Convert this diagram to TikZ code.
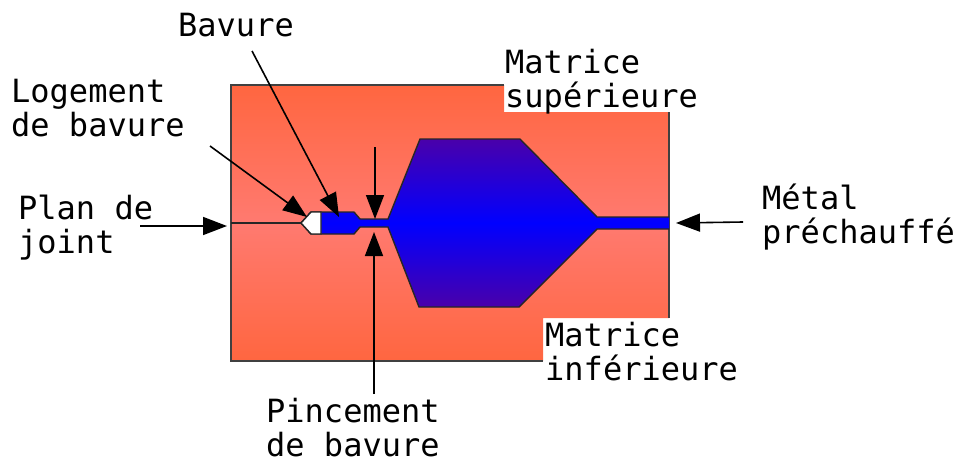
\documentclass[tikz,border=0pt]{standalone}
\usepackage{fontspec}
\setmonofont{DejaVu Sans Mono}
\usetikzlibrary{arrows.meta}
\definecolor{orangeHaut}{RGB}{255,102,64}
\definecolor{orangeMilieu}{RGB}{255,122,112}
\definecolor{violetBord}{RGB}{74,0,170}
\definecolor{bleuMetal}{RGB}{0,0,255}
\tikzset{
  etiquette/.style={anchor=north west, align=left, inner sep=0pt, text=black,
    font=\fontsize{32}{34}\selectfont\ttfamily},
  fleche/.style={-{Triangle[length=24pt,width=18pt]}, line width=1.6pt, black},
  matrice/.style={top color=orangeHaut, bottom color=orangeHaut, middle color=orangeMilieu},
  bordMatrice/.style={line width=1.5pt, black!75},
  empreinte/.style={top color=violetBord, bottom color=violetBord, middle color=bleuMetal},
  bordMetal/.style={line width=1.4pt, black!85},
}
\begin{document}
\begin{tikzpicture}[x=1pt, y=-1pt]
    \useasboundingbox (0,0) rectangle (960,463);
    % matrices
    \path[matrice] (231,85) -- (504,85) -- (504,112) -- (669,112) -- (669,318)
      -- (543,318) -- (543,361) -- (231,361) -- cycle;
    \draw[bordMatrice] (504,85) -- (231,85) -- (231,361) -- (543,361);
    \draw[bordMatrice] (669,112) -- (669,318);
    % empreinte
    \path[empreinte] (321,212) -- (354,212) -- (360,219) -- (388,219) -- (420,139)
      -- (520,139) -- (597,217) -- (669,217) -- (669,229) -- (597,229) -- (519,307)
      -- (419,307) -- (388,227) -- (360,227) -- (354,234) -- (321,234) -- cycle;
    \draw[bordMetal] (669,217) -- (597,217) -- (520,139) -- (420,139) -- (388,219)
      -- (360,219) -- (354,212) -- (311,212) -- (301,223) -- (311,234) -- (354,234)
      -- (360,227) -- (388,227) -- (419,307) -- (519,307) -- (597,229) -- (669,229);
    \draw[bordMetal, fill=white] (321,212) -- (311,212) -- (301,223) -- (311,234)
      -- (321,234) -- cycle;
    \draw[bordMetal] (231,223) -- (301,223);
    % textes
    \node[etiquette] (bavure) at (178,13) {Bavure};
    \node[etiquette] (logement) at (11,79) {Logement\\de bavure};
    \node[etiquette] (plan) at (18,195) {Plan de\\joint};
    \node[etiquette] (superieure) at (505,49) {Matrice\\supérieure};
    \node[etiquette] (inferieure) at (545,322) {Matrice\\inférieure};
    \node[etiquette] (metal) at (762,184) {Métal\\préchauffé};
    \node[etiquette] (pincement) at (266,398) {Pincement\\de bavure};
    % points des fleches
    \coordinate (bavureDe) at (252,51);
    \coordinate (bavureA) at (339,217);
    \coordinate (logementDe) at (210,146);
    \coordinate (logementA) at (307,217);
    \coordinate (planDe) at (140,226);
    \coordinate (planA) at (227,226);
    \coordinate (hautDe) at (375,147);
    \coordinate (hautA) at (375,219);
    \coordinate (basDe) at (374,394);
    \coordinate (basA) at (374,232);
    \coordinate (metalDe) at (743,222);
    \coordinate (metalA) at (676,223);
    \draw[fleche] (bavureDe) -- (bavureA);
    \draw[fleche] (logementDe) -- (logementA);
    \draw[fleche] (planDe) -- (planA);
    \draw[fleche] (hautDe) -- (hautA);
    \draw[fleche] (basDe) -- (basA);
    \draw[fleche] (metalDe) -- (metalA);
  \end{tikzpicture}
\end{document}
